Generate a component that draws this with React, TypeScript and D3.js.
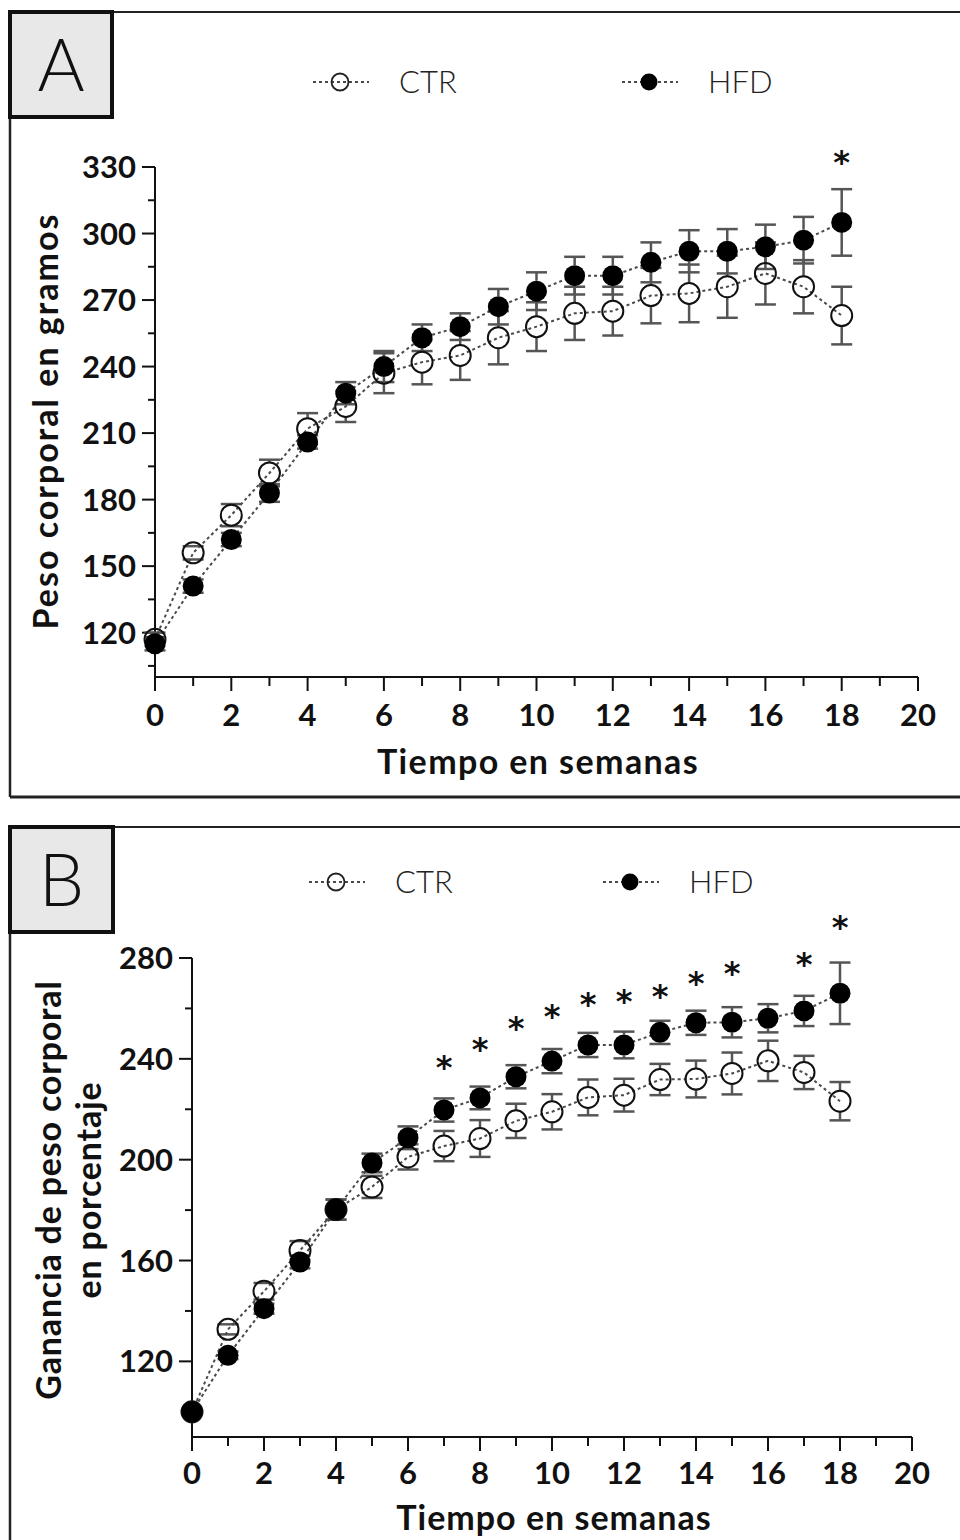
import React from 'react';
import * as d3 from 'd3';

// ---------- DATA ----------
const weeks = [0, 1, 2, 3, 4, 5, 6, 7, 8, 9, 10, 11, 12, 13, 14, 15, 16, 17, 18];

// Panel A: body weight (g)
const ctrWeight = [117, 156, 173, 192, 212, 222, 237, 242, 245, 253, 258, 264, 265, 272, 273, 276, 282, 276, 263];
const ctrWeightErr = [3, 3, 5, 6, 7, 7, 9, 10, 11, 12, 11, 12, 11, 12.5, 13, 14, 14, 12, 13];
const hfdWeight = [115, 141, 162, 183, 206, 228, 240, 253, 258, 267, 274, 281, 281, 287, 292, 292, 294, 297, 305];
const hfdWeightErr = [3, 3, 3, 4, 3, 5, 7, 6, 6, 8, 8.5, 8.5, 8.5, 9, 9.5, 10, 10, 10.5, 15];
const starWeeksA = [18];
const starLevelsA = [334];

// Panel B: weight gain (%)
const ctrGain = [100, 132.7, 147.8, 164, 180.2, 189.2, 201.1, 205.4, 208.4, 215.4, 219, 224.7, 225.6, 231.8, 232, 234.2, 239.2, 234.6, 223.2];
const ctrGainErr = [0, 2, 3.3, 3.7, 4, 4.4, 5, 6, 7.3, 6.8, 7, 7.1, 6.5, 6.2, 7.3, 8.3, 8, 6.6, 7.6];
const hfdGain = [100, 122.4, 140.9, 159.4, 180.2, 198.7, 208.7, 219.7, 224.5, 232.9, 239.1, 245.5, 245.5, 250.5, 254.3, 254.5, 256.1, 259, 266];
const hfdGainErr = [0, 1.5, 2, 2.5, 4, 3.7, 4.5, 4.6, 4.5, 4.6, 4.8, 4.8, 5.3, 4.6, 4.8, 6, 5.6, 6, 12.2];
const starWeeksB = [7, 8, 9, 10, 11, 12, 13, 14, 15, 17, 18];
const starLevelsB = [238.3, 245.5, 253.8, 258.7, 263.3, 264.6, 266.6, 271.9, 275.9, 279.5, 294];

const xTickLabels = [0, 2, 4, 6, 8, 10, 12, 14, 16, 18, 20];
const yTicksA = [120, 150, 180, 210, 240, 270, 300, 330];
const yTicksB = [120, 160, 200, 240, 280];
const seriesNames = ['CTR', 'HFD'];
const xTitle = 'Tiempo en semanas';
const yTitleA = ['Peso corporal en gramos'];
const yTitleB = ['Ganancia de peso corporal', 'en porcentaje'];

const FONT = "Lato, 'Open Sans', 'DejaVu Sans', sans-serif";
const STAR_FONT = "'DejaVu Sans', sans-serif";
const LINE_COLOR = '#4a4a4a';
const ERR_COLOR = '#555';

type PanelCfg = {
  label: string;
  boxTop: number;
  boxBottom: number | null;
  labelBox: [number, number, number, number];
  legendY: number;
  legendCtrX: number;
  legendHfdX: number;
  xRange: [number, number];
  yDomain: [number, number];
  yRange: [number, number];
  yTicks: number[];
  yMinorStep: number;
  ctr: number[];
  ctrErr: number[];
  hfd: number[];
  hfdErr: number[];
  starWeeks: number[];
  starLevels: number[];
  yTitle: string[];
  yTitleX: number[];
  yTitleY: number;
  yTitleSpacing: number;
  xLabelY: number;
  xTitleX: number;
  xTitleY: number;
  xTitleSpacing: number;
};

const R = 10.5;

function ErrorBars({ xs, vals, errs, x, y }: any) {
  return (
    <g stroke={ERR_COLOR} strokeWidth={2.5} fill="none">
      {vals.map((v: number, i: number) => {
        const cx = x(xs[i]);
        const cy = y(v);
        const up = y(v + errs[i]);
        const dn = y(v - errs[i]);
        const parts: any[] = [];
        if (errs[i] <= 0) return null;
        if (cy - up > R) parts.push(<line key="u" x1={cx} x2={cx} y1={cy - R} y2={up} />);
        if (dn - cy > R) parts.push(<line key="d" x1={cx} x2={cx} y1={cy + R} y2={dn} />);
        parts.push(<line key="cu" x1={cx - 10.5} x2={cx + 10.5} y1={up} y2={up} />);
        parts.push(<line key="cd" x1={cx - 10.5} x2={cx + 10.5} y1={dn} y2={dn} />);
        return <g key={i}>{parts}</g>;
      })}
    </g>
  );
}

function Panel({ c }: { c: PanelCfg }) {
  const x = d3.scaleLinear().domain([0, 20]).range(c.xRange);
  const y = d3.scaleLinear().domain(c.yDomain).range(c.yRange);
  const yTop = c.yTicks[c.yTicks.length - 1];
  const axisY = y(c.yDomain[0]);
  const axisX = x(0);
  const line = d3
    .line<number>()
    .x((_, i) => x(weeks[i]))
    .y((d) => y(d));
  const minor: number[] = [];
  for (let v = c.yDomain[0] + ((yTop - c.yDomain[0]) % c.yMinorStep); v < yTop; v += c.yMinorStep) {
    if (!c.yTicks.includes(v)) minor.push(v);
  }
  const xMinor = d3.range(1, 20, 2);
  const [bx, by, bw, bh] = c.labelBox;
  const fsStar = 32;
  return (
    <g>
      {/* panel frame */}
      <line x1={10} x2={960} y1={c.boxTop} y2={c.boxTop} stroke="#222" strokeWidth={2} />
      <line x1={10} x2={10} y1={c.boxTop} y2={c.boxBottom ?? 1540} stroke="#222" strokeWidth={2.5} />
      {c.boxBottom !== null && (
        <line x1={10} x2={960} y1={c.boxBottom} y2={c.boxBottom} stroke="#222" strokeWidth={3} />
      )}
      <rect x={bx} y={by} width={bw} height={bh} fill="#e8e8e8" stroke="#111" strokeWidth={4} />
      <text x={bx + bw / 2} y={by + bh / 2 + 26} textAnchor="middle" fontFamily={FONT} fontWeight={300} fontSize={72} fill="#111">
        {c.label}
      </text>

      {/* legend */}
      {[c.legendCtrX, c.legendHfdX].map((lx, k) => (
        <g key={k}>
          <line x1={lx - 27} x2={lx + 29} y1={c.legendY} y2={c.legendY} stroke={LINE_COLOR} strokeWidth={2} strokeDasharray="3 3" />
          {k === 0 ? (
            <circle cx={lx} cy={c.legendY} r={8.5} fill="none" stroke="#222" strokeWidth={1.8} />
          ) : (
            <circle cx={lx} cy={c.legendY} r={8.5} fill="#000" />
          )}
          <text x={lx + 59} y={c.legendY + 11} fontFamily={FONT} fontWeight={300} fontSize={31} fill="#222">
            {seriesNames[k]}
          </text>
        </g>
      ))}

      {/* y axis */}
      <g stroke="#111" strokeWidth={2}>
        <line x1={axisX} x2={axisX} y1={axisY} y2={y(yTop)} />
        {c.yTicks.map((t) => (
          <line key={t} x1={axisX - 13} x2={axisX} y1={y(t)} y2={y(t)} />
        ))}
        {minor.map((t) => (
          <line key={'m' + t} x1={axisX - 7} x2={axisX} y1={y(t)} y2={y(t)} />
        ))}
      </g>
      {c.yTicks.map((t) => (
        <text key={'l' + t} x={axisX - 19} y={y(t) + 11} textAnchor="end" fontFamily={FONT} fontWeight={700} fontSize={31} fill="#111">
          {t}
        </text>
      ))}
      {c.yTitle.map((s, k) => (
        <text
          key={s}
          transform={`translate(${c.yTitleX[k]},${c.yTitleY}) rotate(-90)`}
          textAnchor="middle"
          fontFamily={FONT}
          fontWeight={700}
          fontSize={34}
          letterSpacing={c.yTitleSpacing}
          fill="#111"
        >
          {s}
        </text>
      ))}

      {/* x axis */}
      <g stroke="#111" strokeWidth={2}>
        <line x1={x(0)} x2={x(20)} y1={axisY} y2={axisY} />
        {xTickLabels.map((t) => (
          <line key={t} x1={x(t)} x2={x(t)} y1={axisY} y2={axisY + 14} />
        ))}
        {xMinor.map((t) => (
          <line key={'m' + t} x1={x(t)} x2={x(t)} y1={axisY} y2={axisY + 9} />
        ))}
      </g>
      {xTickLabels.map((t) => (
        <text key={'xl' + t} x={x(t)} y={c.xLabelY} textAnchor="middle" fontFamily={FONT} fontWeight={700} fontSize={31} fill="#111">
          {t}
        </text>
      ))}
      <text x={c.xTitleX} y={c.xTitleY} textAnchor="middle" fontFamily={FONT} fontWeight={700} fontSize={34} letterSpacing={c.xTitleSpacing} fill="#111">
        {xTitle}
      </text>

      {/* data */}
      <ErrorBars xs={weeks} vals={c.ctr} errs={c.ctrErr} x={x} y={y} />
      <ErrorBars xs={weeks} vals={c.hfd} errs={c.hfdErr} x={x} y={y} />
      <path d={line(c.ctr) ?? ''} fill="none" stroke={LINE_COLOR} strokeWidth={2} strokeDasharray="3 3" />
      <path d={line(c.hfd) ?? ''} fill="none" stroke={LINE_COLOR} strokeWidth={2} strokeDasharray="3 3" />
      {c.ctr.map((v, i) => (
        <circle key={'c' + i} cx={x(weeks[i])} cy={y(v)} r={R} fill="none" stroke="#111" strokeWidth={2} />
      ))}
      {c.hfd.map((v, i) => (
        <circle key={'h' + i} cx={x(weeks[i])} cy={y(v)} r={R} fill="#000" />
      ))}
      {c.starWeeks.map((w, i) => (
        <text key={'s' + w} x={x(w)} y={y(c.starLevels[i]) + fsStar * 0.48} textAnchor="middle" fontFamily={STAR_FONT} fontWeight={700} fontSize={fsStar} fill="#111">
          *
        </text>
      ))}
    </g>
  );
}

const panelA: PanelCfg = {
  label: 'A',
  boxTop: 12,
  boxBottom: 797,
  labelBox: [10, 12, 102, 105],
  legendY: 82,
  legendCtrX: 340,
  legendHfdX: 649,
  xRange: [155, 918],
  yDomain: [100, 330],
  yRange: [677, 167],
  yTicks: yTicksA,
  yMinorStep: 15,
  ctr: ctrWeight,
  ctrErr: ctrWeightErr,
  hfd: hfdWeight,
  hfdErr: hfdWeightErr,
  starWeeks: starWeeksA,
  starLevels: starLevelsA,
  yTitle: yTitleA,
  yTitleX: [58],
  yTitleY: 421,
  yTitleSpacing: 2,
  xLabelY: 726,
  xTitleX: 538,
  xTitleY: 774,
  xTitleSpacing: 1.4,
};

const panelB: PanelCfg = {
  label: 'B',
  boxTop: 827,
  boxBottom: null,
  labelBox: [10, 827, 103, 105],
  legendY: 882,
  legendCtrX: 336,
  legendHfdX: 630,
  xRange: [192, 912],
  yDomain: [90, 280],
  yRange: [1437, 958],
  yTicks: yTicksB,
  yMinorStep: 20,
  ctr: ctrGain,
  ctrErr: ctrGainErr,
  hfd: hfdGain,
  hfdErr: hfdGainErr,
  starWeeks: starWeeksB,
  starLevels: starLevelsB,
  yTitle: yTitleB,
  yTitleX: [61, 101],
  yTitleY: 1190,
  yTitleSpacing: 0.8,
  xLabelY: 1484,
  xTitleX: 554,
  xTitleY: 1530,
  xTitleSpacing: 1,
};

export default function App() {
  return (
    <svg
      width={960}
      height={1540}
      viewBox="0 0 960 1540"
      style={{ position: 'absolute', left: 0, top: 0, background: '#fff' }}
    >
      <rect x={0} y={0} width={960} height={1540} fill="#fff" />
      <Panel c={panelA} />
      <Panel c={panelB} />
    </svg>
  );
}
